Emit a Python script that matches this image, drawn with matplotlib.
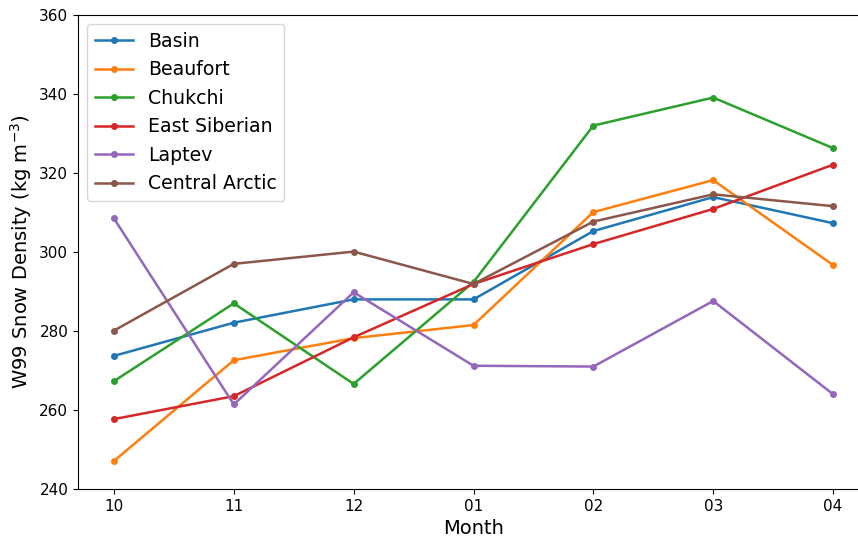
import matplotlib
matplotlib.use("Agg")
import matplotlib.pyplot as plt

# Monthly W99 snow density per region
months = ["10", "11", "12", "01", "02", "03", "04"]
basin = [273.7, 282.1, 288.0, 288.0, 305.3, 313.9, 307.3]
beaufort = [247.1, 272.6, 278.2, 281.5, 310.1, 318.2, 296.7]
chukchi = [267.3, 287.0, 266.6, 292.4, 332.0, 339.1, 326.3]
east_siberian = [257.7, 263.5, 278.4, 291.9, 302.0, 310.9, 322.1]
laptev = [308.5, 261.4, 289.8, 271.2, 271.0, 287.6, 264.0]
central_arctic = [280.1, 297.0, 300.1, 291.9, 307.7, 314.6, 311.6]

series = [
    ("Basin", basin),
    ("Beaufort", beaufort),
    ("Chukchi", chukchi),
    ("East Siberian", east_siberian),
    ("Laptev", laptev),
    ("Central Arctic", central_arctic),
]

fig = plt.figure(figsize=(8.58, 5.38), dpi=100)
ax = fig.add_axes([78 / 858, 49 / 538, (869 - 78) / 858, 474 / 538])

x = range(len(months))
for name, vals in series:
    ax.plot(x, vals, marker="o", markersize=4, linewidth=1.8, label=name)

ax.set_xticks(list(x))
ax.set_xticklabels(months)
ax.set_ylim(240, 360)
ax.tick_params(labelsize=11)
ax.set_xlabel("Month", fontsize=14)
ax.set_ylabel("W99 Snow Density (kg m$^{-3}$)", fontsize=14)
ax.legend(loc="upper left", fontsize=13.6)

fig.savefig("out.png", dpi=100)
